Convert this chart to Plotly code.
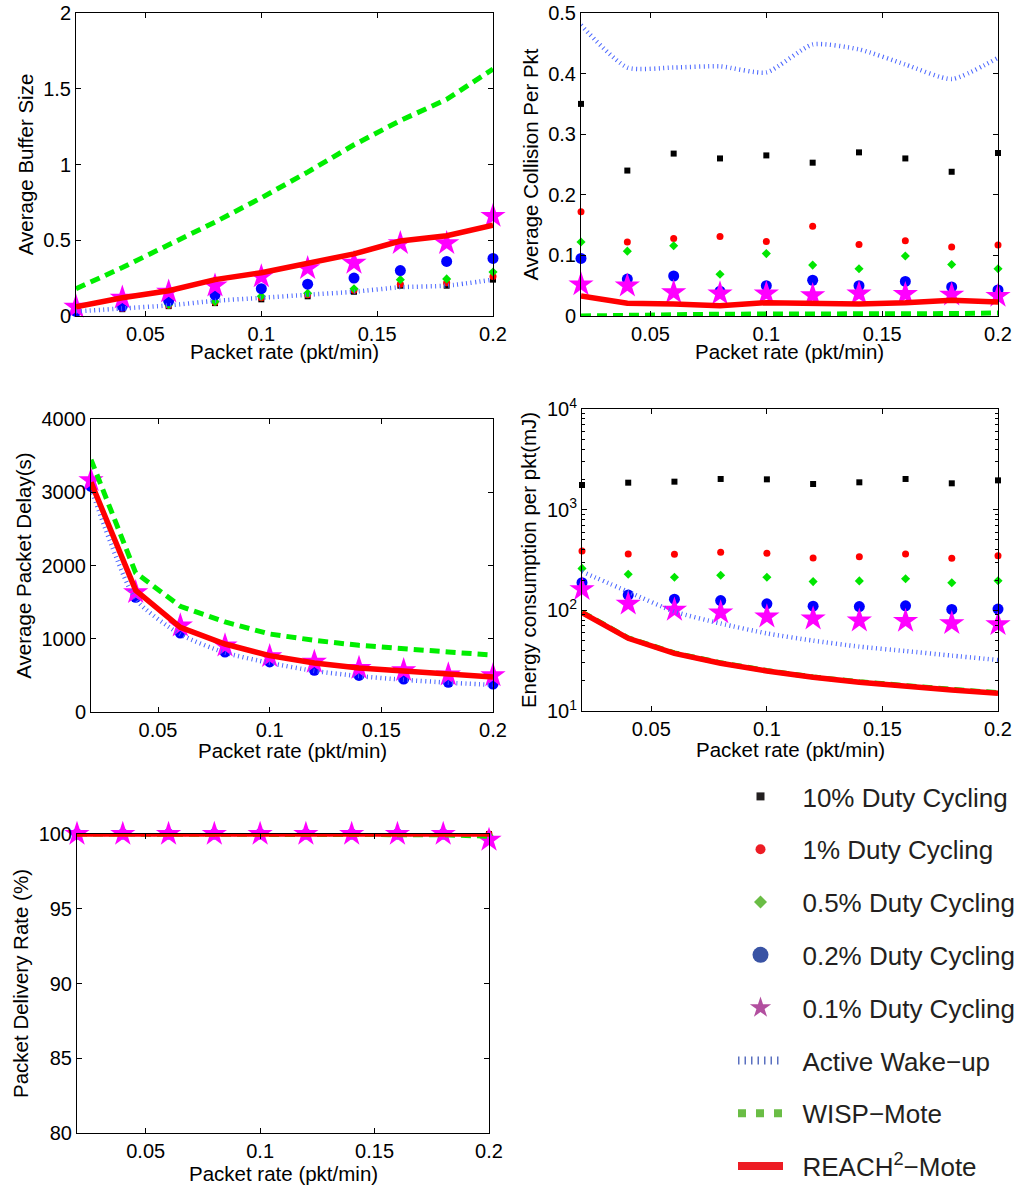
import plotly.graph_objects as go

W, H = 1021, 1186
FONT = "Liberation Sans, Arial, Helvetica, sans-serif"

rate = [0.02, 0.04, 0.06, 0.08, 0.10, 0.12, 0.14, 0.16, 0.18, 0.20]

series_names = ["10% Duty Cycling", "1% Duty Cycling", "0.5% Duty Cycling",
                "0.2% Duty Cycling", "0.1% Duty Cycling", "Active Wake\u2212up",
                "WISP\u2212Mote", "REACH<sup>2</sup>\u2212Mote"]

# Panel 1: Average Buffer Size
buf_dc10 = [0.02, 0.045, 0.065, 0.085, 0.11, 0.13, 0.16, 0.20, 0.20, 0.24]
buf_dc1 = [0.02, 0.05, 0.07, 0.09, 0.12, 0.14, 0.17, 0.21, 0.22, 0.26]
buf_dc05 = [0.03, 0.06, 0.075, 0.095, 0.13, 0.15, 0.18, 0.24, 0.245, 0.29]
buf_dc02 = [0.03, 0.065, 0.10, 0.14, 0.18, 0.21, 0.25, 0.30, 0.36, 0.38]
buf_dc01 = [0.06, 0.12, 0.16, 0.20, 0.26, 0.315, 0.35, 0.48, 0.48, 0.66]
buf_awake = [0.03, 0.05, 0.07, 0.10, 0.12, 0.14, 0.16, 0.19, 0.20, 0.24]
buf_wisp = [0.18, 0.32, 0.47, 0.62, 0.78, 0.95, 1.13, 1.29, 1.43, 1.63]
buf_reach = [0.06, 0.12, 0.167, 0.24, 0.286, 0.35, 0.41, 0.495, 0.53, 0.60]

# Panel 2: Average Collision Per Pkt
col_dc10 = [0.35, 0.24, 0.268, 0.26, 0.265, 0.253, 0.27, 0.26, 0.238, 0.269]
col_dc1 = [0.172, 0.122, 0.128, 0.131, 0.123, 0.148, 0.118, 0.124, 0.114, 0.117]
col_dc05 = [0.122, 0.107, 0.116, 0.069, 0.103, 0.084, 0.078, 0.099, 0.085, 0.078]
col_dc02 = [0.095, 0.061, 0.066, 0.041, 0.050, 0.059, 0.050, 0.057, 0.048, 0.043]
col_dc01 = [0.052, 0.050, 0.039, 0.037, 0.037, 0.034, 0.037, 0.036, 0.035, 0.033]
col_awake = [0.48, 0.41, 0.41, 0.412, 0.402, 0.448, 0.44, 0.415, 0.391, 0.426]
col_wisp = [0.0, 0.0, 0.002, 0.003, 0.003, 0.003, 0.002, 0.003, 0.004, 0.005]
col_reach = [0.033, 0.021, 0.020, 0.017, 0.022, 0.0215, 0.020, 0.022, 0.026, 0.023]

# Panel 3: Average Packet Delay (s)
del_dc10 = [3060, 1550, 1070, 810, 680, 565, 495, 445, 400, 378]
del_dc1 = [3070, 1560, 1075, 815, 682, 567, 498, 448, 403, 380]
del_dc05 = [3075, 1562, 1077, 817, 683, 568, 499, 449, 404, 381]
del_dc02 = [3080, 1565, 1078, 819, 683, 569, 500, 450, 405, 382]
del_dc01 = [3163, 1634, 1179, 906, 760, 683, 600, 569, 510, 500]
del_awake = [3050, 1540, 1060, 810, 670, 560, 490, 440, 400, 370]
del_wisp = [3445, 1900, 1443, 1229, 1065, 978, 910, 860, 819, 778]
del_reach = [3135, 1661, 1156, 928, 769, 669, 601, 555, 510, 478]

# Panel 4: Energy consumption per pkt (mJ)
en_dc10 = [1758, 1854, 1897, 2018, 2001, 1799, 1869, 2018, 1827, 1955]
en_dc1 = [388, 363, 360, 377, 368, 331, 341, 363, 329, 349]
en_dc05 = [261, 228, 213, 223, 213, 193, 196, 206, 188, 197]
en_dc02 = [188, 142, 129, 125, 116, 110, 109, 111, 102, 103]
en_dc01 = [162, 116, 101, 95, 86.5, 82.6, 78.9, 78.3, 74.3, 72.6]
en_awake = [242, 153, 97, 74, 59, 50, 43.6, 39.4, 35.5, 32.1]
en_wisp = [96, 53.2, 37.8, 30.1, 25.2, 21.8, 19.5, 17.7, 16.4, 15.2]
en_reach = [94.8, 52.7, 37.4, 29.8, 25.0, 21.6, 19.3, 17.5, 16.2, 15.0]

# Panel 5: Packet Delivery Rate (%)
pdr_dc10 = [100, 100, 100, 100, 100, 100, 100, 100, 100, 100]
pdr_dc1 = [100, 100, 100, 100, 100, 100, 100, 100, 100, 100]
pdr_dc05 = [100, 100, 100, 100, 100, 100, 100, 100, 100, 99.9]
pdr_dc02 = [100, 100, 100, 100, 100, 100, 100, 100, 100, 100.05]
pdr_dc01 = [100, 100, 100, 100, 100, 100, 100, 100, 100, 99.6]
pdr_awake = [100, 100, 100, 100, 100, 100, 100, 100, 100, 100]
pdr_wisp = [100, 100, 100, 100, 100, 100, 100, 100, 99.95, 99.85]
pdr_reach = [100, 100, 100, 100, 100, 100, 100, 100, 100, 100]

x_ticks = [0.05, 0.1, 0.15, 0.2]
x_ticktext = ["0.05", "0.1", "0.15", "0.2"]
x_title = "Packet rate (pkt/min)"

panels = [
    dict(data=[buf_dc10, buf_dc1, buf_dc05, buf_dc02, buf_dc01, buf_awake, buf_wisp, buf_reach],
         ytitle="Average Buffer Size", yrange=[0, 2], ytickvals=[0, 0.5, 1, 1.5, 2],
         yticktext=["0", "0.5", "1", "1.5", "2"], box=(76, 493, 13, 316), log=False, xt=35),
    dict(data=[col_dc10, col_dc1, col_dc05, col_dc02, col_dc01, col_awake, col_wisp, col_reach],
         ytitle="Average Collision Per Pkt", yrange=[0, 0.5], ytickvals=[0, 0.1, 0.2, 0.3, 0.4, 0.5],
         yticktext=["0", "0.1", "0.2", "0.3", "0.4", "0.5"], box=(581, 998, 13, 316), log=False, xt=35),
    dict(data=[del_dc10, del_dc1, del_dc05, del_dc02, del_dc01, del_awake, del_wisp, del_reach],
         ytitle="Average Packet Delay(s)", yrange=[0, 4000], ytickvals=[0, 1000, 2000, 3000, 4000],
         yticktext=["0", "1000", "2000", "3000", "4000"], box=(91, 493, 419, 712), log=False, xt=38),
    dict(data=[en_dc10, en_dc1, en_dc05, en_dc02, en_dc01, en_awake, en_wisp, en_reach],
         ytitle="Energy consumption per pkt(mJ)", yrange=[1, 4], ytickvals=[10, 100, 1000, 10000],
         yticktext=["10<sup>1</sup>", "10<sup>2</sup>", "10<sup>3</sup>", "10<sup>4</sup>"],
         box=(582, 998, 409, 711), log=True, xt=38),
    dict(data=[pdr_dc10, pdr_dc1, pdr_dc05, pdr_dc02, pdr_dc01, pdr_awake, pdr_wisp, pdr_reach],
         ytitle="Packet Delivery Rate (%)", yrange=[80, 100], ytickvals=[80, 85, 90, 95, 100],
         yticktext=["80", "85", "90", "95", "100"], box=(77, 489, 834, 1133), log=False, xt=40),
]

# plot styles (markers / lines) for the 8 series
mk_styles = [
    dict(symbol="square", size=6, color="#000000"),
    dict(symbol="circle", size=7, color="#ff0000"),
    dict(symbol="diamond", size=7, color="#00e600"),
    dict(symbol="circle", size=11, color="#0000ff"),
    dict(symbol="star", size=19, color="#ff00ff"),
]
ln_styles = [
    dict(color="#4a66ff", width=4.5, dash="1px,3.5px"),
    dict(color="#00ee00", width=5, dash="10px,6px"),
    dict(color="#ff0000", width=5.5),
]

fig = go.Figure()
layout = {}
annotations = []
for i, p in enumerate(panels):
    k = "" if i == 0 else str(i + 1)
    xa, ya = "x" + k, "y" + k
    x0, x1, y0, y1 = p["box"]
    common = dict(showline=True, linecolor="black", linewidth=1, mirror="ticks",
                  ticks="inside", ticklen=5, tickcolor="black", showgrid=False, zeroline=False,
                  automargin=False,
                  tickfont=dict(family=FONT, size=20, color="black"))
    layout["xaxis" + k] = dict(domain=[x0 / W, x1 / W], anchor=ya, range=[0.02, 0.2],
                               tickvals=x_ticks, ticktext=x_ticktext, ticklabelstandoff=0,
                               **common)
    annotations.append(dict(text=x_title, xref=xa + " domain", yref=ya + " domain",
                            x=0.5, y=0, xanchor="center", yanchor="middle",
                            yshift=-p["xt"], showarrow=False,
                            font=dict(family=FONT, size=20.5, color="black")))
    yax = dict(domain=[1 - y1 / H, 1 - y0 / H], anchor=xa, range=p["yrange"],
               tickvals=p["ytickvals"], ticktext=p["yticktext"],
               title=dict(text=p["ytitle"], standoff=4,
                          font=dict(family=FONT, size=20.5, color="black")),
               **common)
    if p["log"]:
        yax["type"] = "log"
        yax["minor"] = dict(ticks="inside", ticklen=3, tickcolor="black",
                            tickvals=[m * 10 ** e for e in range(1, 4) for m in range(2, 10)])
    layout["yaxis" + k] = yax

    for j in range(8):
        ys = p["data"][j]
        if j < 5:
            fig.add_trace(go.Scatter(x=rate, y=ys, mode="markers", marker=mk_styles[j],
                                     xaxis=xa, yaxis=ya, showlegend=False, cliponaxis=False,
                                     name=series_names[j]))
        else:
            ls = dict(ln_styles[j - 5])
            shape = "spline" if j == 5 else "linear"
            fig.add_trace(go.Scatter(x=rate, y=ys, mode="lines",
                                     line=dict(shape=shape, smoothing=0.6, **ls),
                                     xaxis=xa, yaxis=ya, showlegend=False, cliponaxis=False,
                                     name=series_names[j]))

# legend-only entries (legend uses softer print colours)
lg_mk = [
    dict(symbol="square", size=8, color="#231f20"),
    dict(symbol="circle", size=10, color="#ed1c24"),
    dict(symbol="diamond", size=10, color="#6abd45"),
    dict(symbol="circle", size=16, color="#3953a4"),
    dict(symbol="star", size=16, color="#b24f9f"),
]
lg_ln = [
    dict(color="#5a70c0", width=8, dash="1.5px,5px"),
    dict(color="#6abd45", width=8, dash="8px,10px"),
    dict(color="#ed1c24", width=8),
]
PAD = "\u00a0\u00a0"
for j in range(8):
    if j < 5:
        fig.add_trace(go.Scatter(x=[None], y=[None], mode="markers", marker=lg_mk[j],
                                 name=PAD + series_names[j], legendgroup="g%d" % j, showlegend=True))
    else:
        fig.add_trace(go.Scatter(x=[None], y=[None], mode="lines", line=lg_ln[j - 5],
                                 name=PAD + series_names[j], legendgroup="g%d" % j, showlegend=True))

fig.update_layout(
    width=W, height=H, margin=dict(l=0, r=0, t=0, b=0, autoexpand=False),
    paper_bgcolor="white", plot_bgcolor="white",
    font=dict(family=FONT, size=20, color="black"),
    legend=dict(x=733 / W, y=1 - 773 / H, xanchor="left", yanchor="top",
                xref="container", yref="container",
                font=dict(family=FONT, size=26, color="#231f20"),
                tracegroupgap=16, itemwidth=45, bgcolor="rgba(0,0,0,0)",
                itemsizing="trace"),
    annotations=annotations,
    **layout,
)

fig.write_html("out.html", config={"displayModeBar": False},
               post_script="document.body.style.margin='0';document.body.style.overflow='hidden';")
